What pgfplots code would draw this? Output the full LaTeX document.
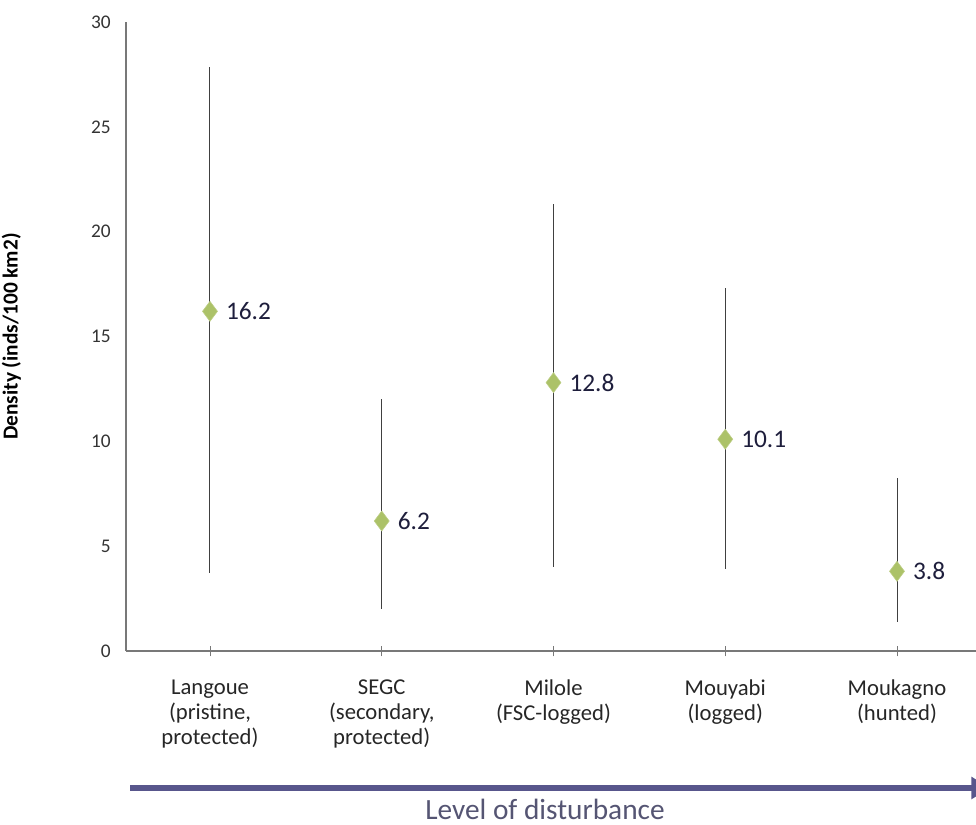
\documentclass[border=0pt]{standalone}
\usepackage{fontspec}
\setmainfont{Carlito}
\usepackage{pgfplots}
\pgfplotsset{compat=1.18}
\usetikzlibrary{arrows.meta}
\definecolor{mk}{RGB}{172,194,104}
\definecolor{lbl}{RGB}{30,30,60}
\definecolor{arr}{RGB}{88,86,140}
\definecolor{lvl}{RGB}{85,85,115}
\definecolor{axg}{RGB}{120,120,120}
\begin{document}
\begin{tikzpicture}[x=0.75pt,y=0.75pt]
\begin{axis}[
  at={(94.5pt,130.5pt)}, anchor=south west,
  scale only axis, width=637.5pt, height=471.75pt,
  xmin=-0.489, xmax=4.46, ymin=0, ymax=30,
  axis lines=left, axis line style={axg, line width=0.8pt, -},
  xtick={0,1,2,3,4},
  xticklabels={{Langoue\\(pristine,\\protected)}, {SEGC\\(secondary,\\protected)}, {Milole\\(FSC-logged)}, {Mouyabi\\(logged)}, {Moukagno\\(hunted)}},
  x tick label style={align=center, font=\fontsize{17}{18.7}\selectfont, text=black!85, anchor=north, yshift=-14pt},
  xtick style={axg, line width=0.6pt}, major tick length=8pt,
  xtick align=center,
  ytick={0,5,...,30}, ytick style={draw=none},
  y tick label style={font=\fontsize{14.5}{16}\selectfont, text=black!80, xshift=-4pt},
  /pgf/number format/assume math mode=true,
  ylabel={\textbf{Density (inds/100 km2)}},
  ylabel style={font=\fontsize{16}{18}\selectfont, at={(axis description cs:-0.118,0.5)}},
  clip=false,
  nodes near coords,
  point meta=explicit symbolic,
  every node near coord/.append style={anchor=west, xshift=8.5pt, font=\fontsize{19}{22}\selectfont, text=lbl},
]
\addplot[only marks, mark=diamond*, mark size=7.5pt, mark options={fill=mk, draw=mk!80!white},
  error bars/.cd, y dir=both, y explicit, error mark=none,
  error bar style={black!75, line width=0.75pt}]
  coordinates {
  (0,16.2) += (0,11.65) -= (0,12.5) [16.2]
  (1,6.2) += (0,5.8) -= (0,4.2) [6.2]
  (2,12.8) += (0,8.5) -= (0,8.8) [12.8]
  (3,10.1) += (0,7.2) -= (0,6.2) [10.1]
  (4,3.8) += (0,4.45) -= (0,2.4) [3.8]
  };
\end{axis}
\draw[arr, line width=4pt, -{Triangle[length=14pt,width=16pt]}] (130,37) -- (990,37);
\node[text=lvl, font=\fontsize{22}{24}\selectfont] at (545,16) {Level of disturbance};
\pgfresetboundingbox
\path[use as bounding box] (0,0) rectangle (976,825);
\end{tikzpicture}
\end{document}
